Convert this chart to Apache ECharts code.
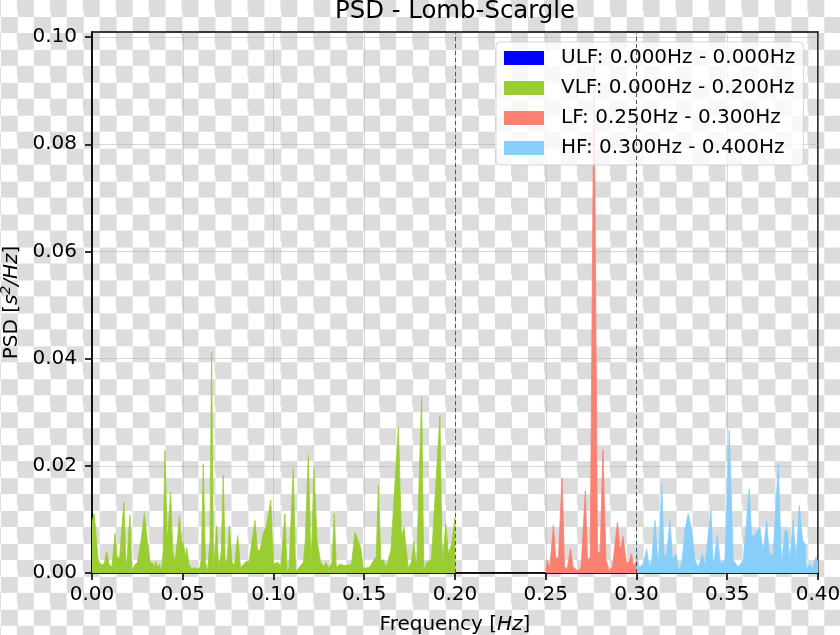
<!DOCTYPE html>
<html><head><meta charset="utf-8">
<script src="https://cdn.jsdelivr.net/npm/echarts@6/dist/echarts.min.js"></script>
<style>
html,body{margin:0;padding:0;}
body{width:840px;height:635px;background:repeating-conic-gradient(#dcdcdc 0 25%, #ffffff 0 50%) 0.9px 0px / 32.94px 32.94px;}
#chart{width:840px;height:635px;}
</style></head><body><div id="chart"></div>
<script>
// ---- data ----
const titleText = 'PSD - Lomb-Scargle';
const xTicks = [0.00, 0.05, 0.10, 0.15, 0.20, 0.25, 0.30, 0.35, 0.40];
const yTicks = [0.00, 0.02, 0.04, 0.06, 0.08, 0.10];
const yMax = 0.10095;
const bandNames = ['ULF: 0.000Hz - 0.000Hz', 'VLF: 0.000Hz - 0.200Hz', 'LF: 0.250Hz - 0.300Hz', 'HF: 0.300Hz - 0.400Hz'];
const bandEdges = [0.20, 0.30];

const ulfFreq = [];
const ulfPsd = [];

const vlfFreq = [0.0000,0.0012,0.0035,0.0055,0.0068,0.0081,0.0095,0.0110,0.0127,0.0138,0.0152,0.0162,0.0176,0.0188,0.0209,0.0220,0.0235,0.0250,0.0270,0.0288,0.0305,0.0320,0.0335,0.0345,0.0352,0.0362,0.0372,0.0383,0.0392,0.0402,0.0415,0.0433,0.0445,0.0458,0.0470,0.0481,0.0495,0.0505,0.0515,0.0522,0.0535,0.0550,0.0565,0.0580,0.0595,0.0603,0.0613,0.0625,0.0637,0.0650,0.0659,0.0670,0.0687,0.0698,0.0712,0.0723,0.0735,0.0745,0.0757,0.0772,0.0785,0.0803,0.0818,0.0832,0.0850,0.0865,0.0898,0.0912,0.0925,0.0945,0.0962,0.0985,0.0999,0.1010,0.1025,0.1040,0.1063,0.1075,0.1085,0.1109,0.1122,0.1140,0.1165,0.1175,0.1192,0.1207,0.1223,0.1240,0.1260,0.1278,0.1290,0.1305,0.1322,0.1335,0.1346,0.1365,0.1385,0.1405,0.1430,0.1449,0.1468,0.1480,0.1495,0.1530,0.1550,0.1566,0.1578,0.1592,0.1605,0.1620,0.1647,0.1688,0.1705,0.1719,0.1742,0.1760,0.1774,0.1788,0.1816,0.1828,0.1845,0.1870,0.1917,0.1930,0.1949,0.1964,0.1982,0.2000];
const vlfPsd = [0.0095,0.0111,0.0022,0.0015,0.0018,0.0040,0.0015,0.0012,0.0074,0.0030,0.0029,0.0030,0.0132,0.0003,0.0108,0.0004,0.0015,0.0020,0.0060,0.0111,0.0060,0.0020,0.0018,0.0010,0.0022,0.0010,0.0016,0.0003,0.0040,0.0229,0.0061,0.0151,0.0040,0.0020,0.0060,0.0105,0.0060,0.0052,0.0030,0.0047,0.0015,0.0008,0.0010,0.0008,0.0010,0.0030,0.0204,0.0020,0.0004,0.0060,0.0412,0.0003,0.0088,0.0008,0.0040,0.0182,0.0010,0.0030,0.0088,0.0020,0.0015,0.0070,0.0010,0.0015,0.0022,0.0020,0.0098,0.0042,0.0042,0.0075,0.0089,0.0136,0.0017,0.0015,0.0020,0.0012,0.0111,0.0002,0.0010,0.0195,0.0002,0.0010,0.0020,0.0060,0.0220,0.0010,0.0195,0.0060,0.0020,0.0012,0.0020,0.0008,0.0020,0.0111,0.0010,0.0017,0.0014,0.0014,0.0016,0.0076,0.0058,0.0050,0.0008,0.0011,0.0023,0.0030,0.0164,0.0020,0.0025,0.0010,0.0042,0.0272,0.0067,0.0086,0.0010,0.0020,0.0058,0.0008,0.0328,0.0005,0.0020,0.0025,0.0294,0.0011,0.0092,0.0036,0.0055,0.0104];

const lfFreq = [0.2500,0.2509,0.2522,0.2542,0.2556,0.2570,0.2590,0.2603,0.2618,0.2637,0.2650,0.2668,0.2682,0.2695,0.2718,0.2730,0.2745,0.2766,0.2785,0.2800,0.2815,0.2832,0.2850,0.2868,0.2895,0.2910,0.2926,0.2945,0.2962,0.2973,0.2985,0.3000];
const lfPsd = [0.0005,0.0024,0.0008,0.0089,0.0027,0.0030,0.0177,0.0012,0.0008,0.0045,0.0012,0.0006,0.0004,0.0012,0.0153,0.0024,0.0030,0.0961,0.0037,0.0040,0.0229,0.0024,0.0005,0.0011,0.0095,0.0042,0.0068,0.0017,0.0024,0.0036,0.0011,0.0024];

const hfFreq = [0.3000,0.3012,0.3038,0.3056,0.3071,0.3084,0.3102,0.3120,0.3139,0.3152,0.3166,0.3185,0.3198,0.3218,0.3231,0.3249,0.3267,0.3285,0.3304,0.3322,0.3340,0.3364,0.3377,0.3410,0.3423,0.3445,0.3463,0.3487,0.3511,0.3533,0.3560,0.3588,0.3621,0.3634,0.3652,0.3680,0.3698,0.3717,0.3731,0.3753,0.3781,0.3799,0.3818,0.3831,0.3845,0.3864,0.3878,0.3897,0.3915,0.3928,0.3937,0.3955,0.3970,0.3988,0.4000];
const hfPsd = [0.0048,0.0010,0.0017,0.0045,0.0008,0.0024,0.0098,0.0011,0.0167,0.0030,0.0036,0.0098,0.0024,0.0036,0.0005,0.0017,0.0080,0.0111,0.0080,0.0024,0.0011,0.0036,0.0014,0.0117,0.0011,0.0070,0.0017,0.0024,0.0266,0.0024,0.0011,0.0024,0.0157,0.0070,0.0070,0.0086,0.0036,0.0098,0.0036,0.0033,0.0203,0.0017,0.0080,0.0080,0.0024,0.0098,0.0017,0.0126,0.0060,0.0055,0.0008,0.0017,0.0008,0.0030,0.0020];

// ---- styling ----
const FONT = 'DejaVu Sans';
const bandColors = ['#0000ff', '#9acd32', '#fa8072', '#87cefa'];
const gridColor = 'rgba(176,176,176,0.5)';

function bandSeries(idx, freq, psd) {
  const c = bandColors[idx];
  return {
    name: bandNames[idx], type: 'line',
    data: freq.map((f, i) => [f, psd[i]]),
    symbol: 'none', showSymbol: false, silent: true,
    color: c, itemStyle: {color: c},
    lineStyle: {width: 0.8, color: c},
    areaStyle: {color: c, opacity: 1, origin: 'start'},
    z: 3
  };
}

const series = [
  bandSeries(0, ulfFreq, ulfPsd),
  bandSeries(1, vlfFreq, vlfPsd),
  bandSeries(2, lfFreq, lfPsd),
  bandSeries(3, hfFreq, hfPsd)
];
series[1].markLine = {
  silent: true, symbol: ['none', 'none'], label: {show: false},
  lineStyle: {type: [4, 3], color: '#555555', width: 1},
  data: bandEdges.map(x => ({xAxis: x})), animation: false
};

const chart = echarts.init(document.getElementById('chart'), null, {renderer: 'canvas'});
const nameRich = {
  n: {fontFamily: FONT, fontSize: 20, color: '#000', lineHeight: 24},
  i: {fontFamily: FONT, fontSize: 20, color: '#000', fontStyle: 'italic', lineHeight: 24},
  sup: {fontFamily: FONT, fontSize: 14, color: '#000', fontStyle: 'italic', lineHeight: 14, verticalAlign: 'top'}
};
chart.setOption({
  animation: false,
  backgroundColor: 'transparent',
  title: {
    text: titleText, left: 335, top: 0, padding: 0,
    textStyle: {fontFamily: FONT, fontSize: 24.4, fontWeight: 'normal', color: '#000'}
  },
  grid: {left: 92, right: 22, top: 32, bottom: 62, show: true, borderColor: '#000', borderWidth: 1.6, backgroundColor: 'transparent', containLabel: false, outerBoundsMode: 'none'},
  legend: {
    orient: 'vertical', left: 496, top: 42, data: bandNames, icon: 'rect',
    itemWidth: 40, itemHeight: 14, itemGap: 10, padding: [6, 8, 7, 8],
    backgroundColor: 'rgba(255,255,255,0.8)', borderColor: 'rgba(204,204,204,0.8)', borderWidth: 1, borderRadius: 4,
    selectedMode: false,
    textStyle: {fontFamily: FONT, fontSize: 20, color: '#000', lineHeight: 20, padding: [0, 0, 0, 12]}
  },
  xAxis: {
    type: 'value', min: xTicks[0], max: xTicks[xTicks.length - 1], interval: 0.05,
    axisLine: {show: true, onZero: false, lineStyle: {color: '#000', width: 1.6}},
    axisTick: {show: true, length: 7, lineStyle: {color: '#000', width: 1.6}},
    axisLabel: {color: '#000', fontFamily: FONT, fontSize: 20, margin: 12, formatter: v => v.toFixed(2), customValues: xTicks},
    splitLine: {show: true, lineStyle: {color: gridColor, width: 1}},
    name: '{n|Frequency [}{i|Hz}{n|]}', nameLocation: 'middle', nameGap: 40,
    nameTextStyle: {fontFamily: FONT, fontSize: 20, color: '#000', rich: nameRich}
  },
  yAxis: {
    type: 'value', min: 0, max: yMax, interval: 0.02,
    axisLine: {show: true, lineStyle: {color: '#000', width: 1.6}},
    axisTick: {show: true, length: 7, lineStyle: {color: '#000', width: 1.6}, customValues: yTicks},
    axisLabel: {color: '#000', fontFamily: FONT, fontSize: 20, margin: 15, formatter: v => v.toFixed(2), customValues: yTicks},
    splitLine: {show: true, lineStyle: {color: gridColor, width: 1}},
    name: '{n|PSD [}{i|s}{sup|2}{i|/Hz}{n|]}', nameLocation: 'middle', nameGap: 65,
    nameTextStyle: {fontFamily: FONT, fontSize: 20, color: '#000', rich: nameRich}
  },
  series: series
});
</script></body></html>
